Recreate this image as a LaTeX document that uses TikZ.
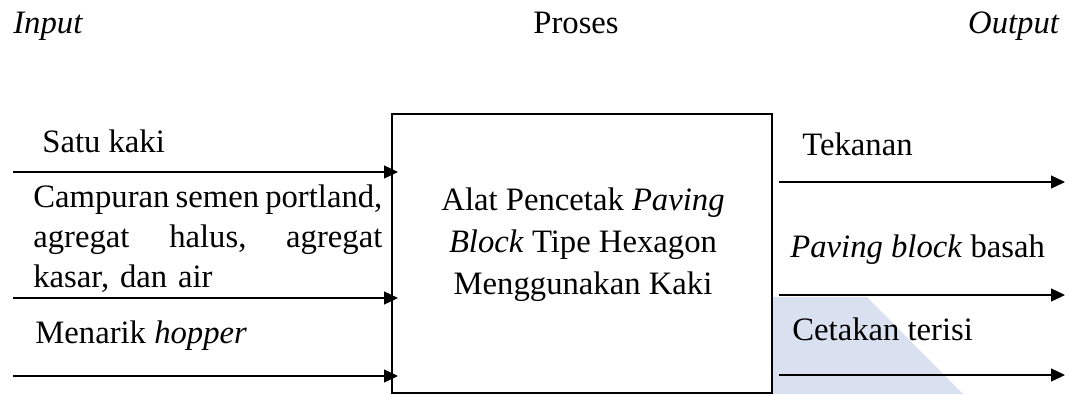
\documentclass[tikz,border=0pt]{standalone}
\usepackage{fontspec}
\setmainfont{Liberation Serif}
\usetikzlibrary{arrows.meta}
\definecolor{birumuda}{RGB}{217,225,240}
\tikzset{
  panah/.style={line width=0.7pt,-{Triangle[length=0.28cm,width=0.26cm]}},
  teks/.style={inner sep=0pt,anchor=base west},
}

\begin{document}
\begin{tikzpicture}[font=\fontsize{18.6}{23}\selectfont]
            \useasboundingbox (0,0) rectangle (21.4,-7.88);
            % bayangan di pojok kanan bawah
            \fill[birumuda](15.44,-5.94)--(17.34,-5.94)--(19.26,-7.88)--(15.44,-7.88)--cycle;
            % judul kolom
            \node[teks](Inp)at(0.26,-0.66){\textit{Input}};
            \node[teks](Pro)at(10.66,-0.66){Proses};
            \node[teks,anchor=base east](Out)at(21.2,-0.66){\textit{Output}};
            % kotak proses
            \node[draw,line width=1.5pt,minimum width=7.6cm,minimum height=5.58cm](alat)at(11.64,-5.07){};
            \node[align=center,font=\fontsize{18.6}{24}\selectfont](judul)at(11.66,-4.9)
                {Alat Pencetak \textit{Paving}\\\textit{Block} Tipe Hexagon\\Menggunakan Kaki};
            % input
            \coordinate(A1)at(0.26,-3.44);
            \coordinate(B1)at(7.96,-3.44);
            \coordinate(A2)at(0.26,-5.96);
            \coordinate(B2)at(7.96,-5.96);
            \coordinate(A3)at(0.26,-7.52);
            \coordinate(B3)at(7.96,-7.52);
            \node[teks](kaki)at(0.84,-3.04){Satu kaki};
            \node[teks,text width=6.98cm,align=left](campuran)at(0.66,-4.14)
                {\leavevmode\hbox to \hsize{Campuran\hfill semen\hfill portland,}\\
                 \leavevmode\hbox to \hsize{agregat\hfill halus,\hfill agregat}\\kasar, dan air};
            \node[teks](hopper)at(0.7,-6.86){Menarik \textit{hopper}};
            \draw[panah](A1)--(B1);
            \draw[panah](A2)--(B2);
            \draw[panah](A3)--(B3);
            % output
            \coordinate(C1)at(15.58,-3.64);
            \coordinate(D1)at(21.3,-3.64);
            \coordinate(C2)at(15.58,-5.9);
            \coordinate(D2)at(21.3,-5.9);
            \coordinate(C3)at(15.58,-7.5);
            \coordinate(D3)at(21.3,-7.5);
            \node[teks](tekanan)at(16.04,-3.1){Tekanan};
            \node[teks](basah)at(15.8,-5.14){\textit{Paving block} basah};
            \node[teks](terisi)at(15.84,-6.8){Cetakan terisi};
            \draw[panah](C1)--(D1);
            \draw[panah](C2)--(D2);
            \draw[panah](C3)--(D3);
        \end{tikzpicture}
\end{document}
